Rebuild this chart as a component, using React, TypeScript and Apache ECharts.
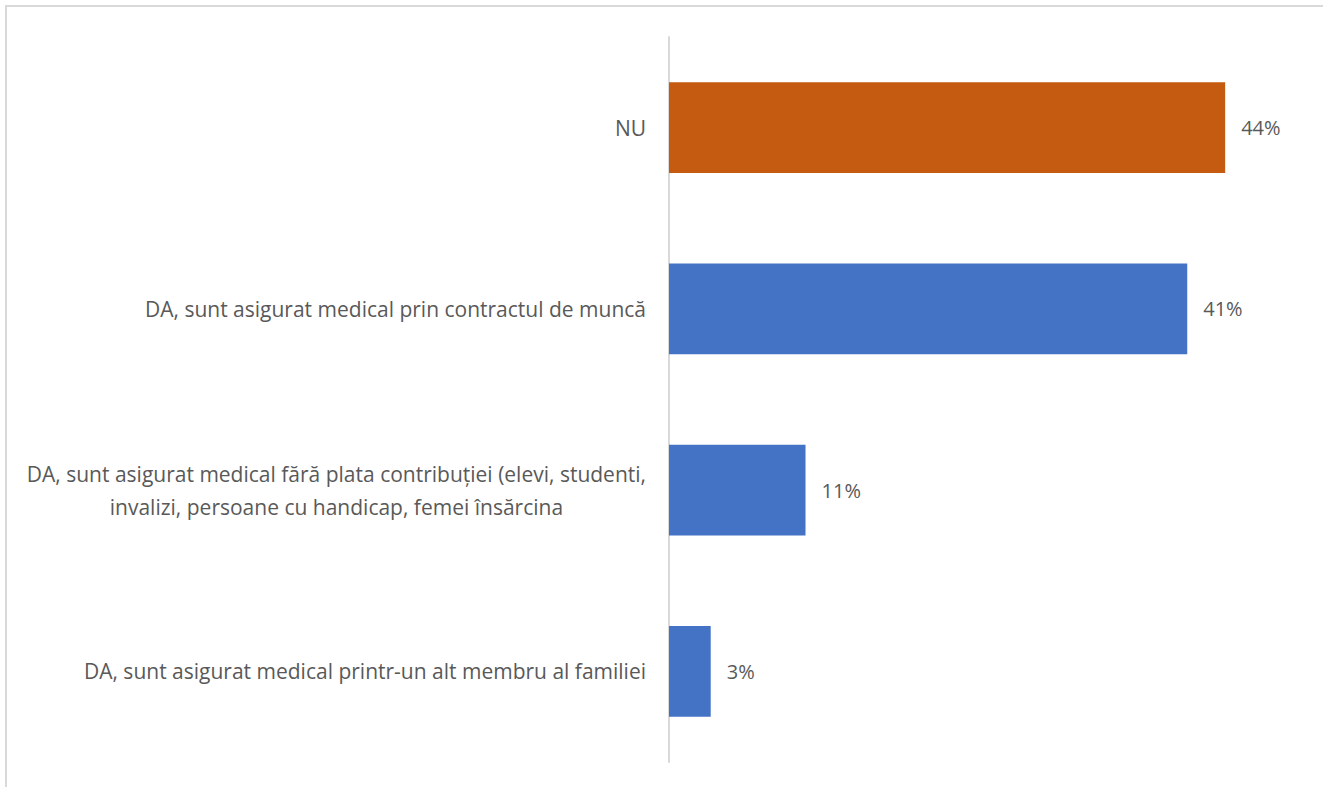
import React, { useEffect, useRef } from "react";
import * as echarts from "echarts";

const categories = [
  "NU",
  "DA, sunt asigurat medical prin contractul de muncă",
  "DA, sunt asigurat medical fără plata contribuției (elevi, studenti,\ninvalizi, persoane cu handicap, femei însărcina",
  "DA, sunt asigurat medical printr-un alt membru al familiei",
];
const values = [44, 41, 10.8, 3.3];
const barColors = ["#C55A11", "#4472C4", "#4472C4", "#4472C4"];

const FONT = "'Open Sans', 'Noto Sans', sans-serif";

export default function App() {
  const ref = useRef<HTMLDivElement>(null);
  useEffect(() => {
    if (!ref.current) return;
    const chart = echarts.init(ref.current, undefined, { renderer: "svg" });
    chart.setOption({
      animation: false,
      backgroundColor: "#ffffff",
      graphic: [
        {
          type: "rect",
          shape: { x: 6, y: 6, width: 1500, height: 1000 },
          style: { fill: "none", stroke: "#d9d9d9", lineWidth: 2 },
          silent: true,
        },
      ],
      grid: { left: 669, top: 37, height: 725, width: 632, containLabel: false },
      xAxis: {
        type: "value",
        min: 0,
        max: 50,
        show: false,
        splitLine: { show: false },
      },
      yAxis: {
        type: "category",
        inverse: true,
        data: categories,
        axisLine: { show: true, lineStyle: { color: "#d9d9d9", width: 2 } },
        axisTick: { show: false },
        axisLabel: {
          color: "#595959",
          fontFamily: FONT,
          fontSize: 21,
          margin: 23,
          lineHeight: 33,
          formatter: (v: string) => {
            const parts = v.split("\n");
            if (parts.length > 1) {
              return parts.map((p) => "{c|" + p + "}").join("\n");
            }
            return v;
          },
          rich: {
            c: {
              color: "#595959",
              fontFamily: FONT,
              fontSize: 21,
              lineHeight: 33,
              align: "center",
            },
          },
        },
      },
      series: [
        {
          type: "bar",
          barWidth: "50%",
          data: values.map((v, i) => ({ value: v, itemStyle: { color: barColors[i] } })),
          label: {
            show: true,
            position: "right",
            distance: 16,
            color: "#595959",
            fontFamily: FONT,
            fontSize: 20,
            formatter: (p: any) => Math.round(p.value) + "%",
          },
        },
      ],
    });
    return () => chart.dispose();
  }, []);
  return (
    <div
      ref={ref}
      style={{ position: "absolute", left: 0, top: 0, width: 1323, height: 787, background: "#fff" }}
    />
  );
}
